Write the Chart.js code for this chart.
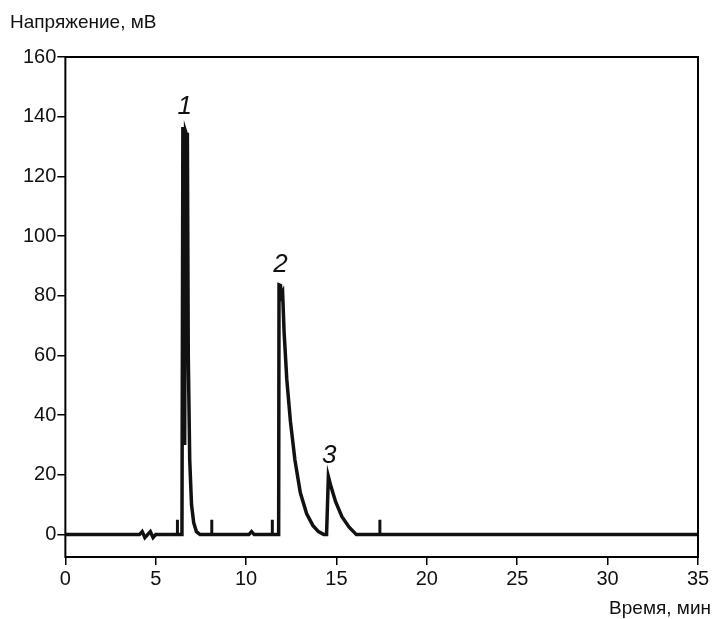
<!DOCTYPE html>
<html><head><meta charset="utf-8">
<script src="https://cdn.jsdelivr.net/npm/chart.js@4"></script>
<style>body{margin:0;background:#fff}#wrap{width:714px;height:619px}</style>
</head><body><div id="wrap"><canvas id="c"></canvas></div>
<script>
// Хроматограмма: время (мин) и напряжение (мВ)
const signalTime = [0, 4.1, 4.25, 4.4, 4.55, 4.7, 4.85, 5.0, 6.45, 6.5, 6.55, 6.6, 6.65, 6.7, 6.75, 6.8, 6.88, 6.98, 7.1, 7.25, 7.45,
  10.15, 10.3, 10.45, 11.8, 11.82, 11.9, 11.95, 12.02, 12.1, 12.25, 12.45, 12.7, 13.0, 13.35, 13.7, 14.0, 14.3,
  14.45, 14.55, 14.7, 14.95, 15.3, 15.7, 16.1, 35];
const signalValue = [0, 0, 1, -1, 0, 1, -1, 0, 0, 136, 136, 30, 135, 134, 134, 60, 25, 10, 4, 1, 0,
  0, 1, 0, 0, 83.7, 83.5, 80, 81, 68, 52, 38, 25, 14, 7, 3, 1, 0,
  0, 19.5, 16, 11, 6, 2.5, 0, 0];
const markTimes = [6.2, 8.1, 11.45, 17.4];
const markHeight = 5;
const peakLabels = ['1', '2', '3'];
const peakLabelTime = [6.6, 11.9, 14.6];
const peakLabelValue = [139, 86, 22];
const xTicks = [0, 5, 10, 15, 20, 25, 30, 35];
const yTicks = [0, 20, 40, 60, 80, 100, 120, 140, 160];

const markData = [];
markTimes.forEach(t => { markData.push({x: t, y: 0}, {x: t, y: markHeight}, {x: t, y: null}); });

const FONT = 'Liberation Sans, Arial, sans-serif';

const extras = {
  id: 'extras',
  afterDraw(chart) {
    const ctx = chart.ctx, a = chart.chartArea, xs = chart.scales.x, ys = chart.scales.y;
    ctx.save();
    ctx.strokeStyle = '#000'; ctx.lineWidth = 2;
    ctx.strokeRect(a.left, a.top, a.right - a.left, a.bottom - a.top);
    ctx.fillStyle = '#111';
    ctx.font = 'italic 26px ' + FONT;
    ctx.textAlign = 'center'; ctx.textBaseline = 'bottom';
    peakLabels.forEach((l, i) => ctx.fillText(l, xs.getPixelForValue(peakLabelTime[i]), ys.getPixelForValue(peakLabelValue[i])));
    ctx.font = '19px ' + FONT;
    ctx.textAlign = 'left'; ctx.textBaseline = 'alphabetic';
    ctx.fillText('Напряжение, мВ', 10, 28);
    ctx.textAlign = 'right';
    ctx.fillText('Время, мин', 711, 614);
    ctx.restore();
  }
};

new Chart(document.getElementById('c'), {
  type: 'line',
  data: {
    datasets: [
      { data: signalTime.map((t, i) => ({x: t, y: signalValue[i]})), borderColor: '#111', borderWidth: 3.5, pointRadius: 0, tension: 0 },
      { data: markData, borderColor: '#111', borderWidth: 3, pointRadius: 0, spanGaps: false }
    ]
  },
  options: {
    responsive: true, maintainAspectRatio: false, animation: false,
    layout: { padding: { left: 22, top: 57, right: 16, bottom: 26 } },
    plugins: { legend: { display: false }, tooltip: { enabled: false } },
    scales: {
      x: {
        type: 'linear', min: 0, max: 35,
        afterBuildTicks: s => { s.ticks = xTicks.map(v => ({value: v})); },
        grid: { drawOnChartArea: false, color: '#000', tickLength: 8, lineWidth: 1.5 },
        border: { display: false },
        ticks: { color: '#111', font: { family: FONT, size: 20 }, padding: 2 }
      },
      y: {
        type: 'linear', min: -7.5, max: 160,
        afterBuildTicks: s => { s.ticks = yTicks.map(v => ({value: v})); },
        grid: { drawOnChartArea: false, color: '#000', tickLength: 8, lineWidth: 1.5 },
        border: { display: false },
        ticks: { color: '#111', font: { family: FONT, size: 20 }, padding: 1 }
      }
    }
  },
  plugins: [extras]
});
</script></body></html>
